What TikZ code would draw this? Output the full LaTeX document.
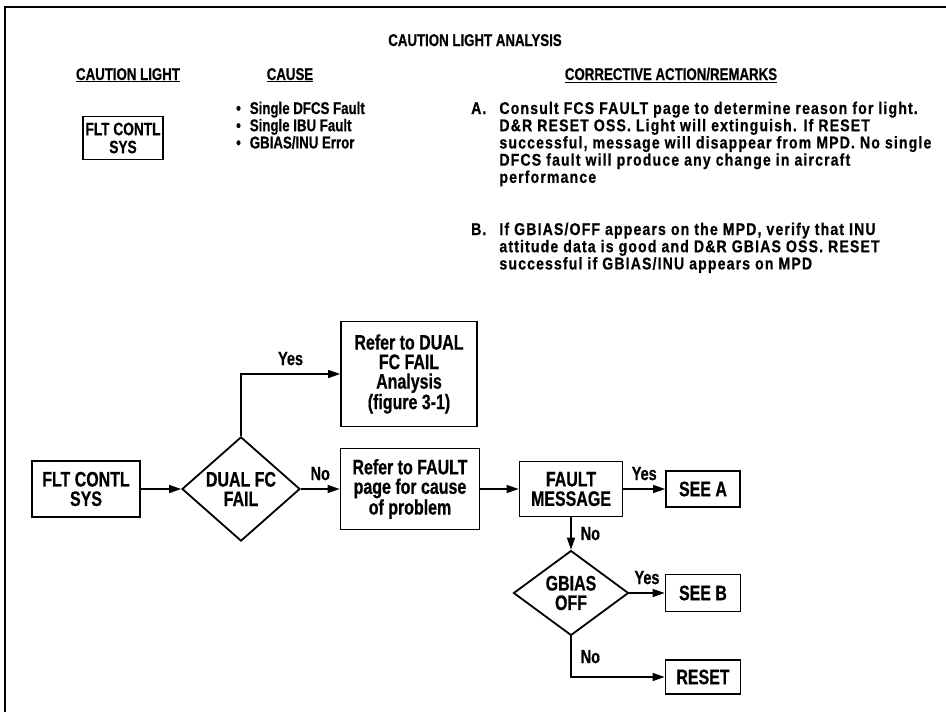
\documentclass[tikz,border=0pt]{standalone}
\usepackage{fontspec}
\setmainfont{Liberation Sans}[FakeStretch=0.78, BoldFeatures={FakeBold=0.6}]
\newfontfamily\remfont{Liberation Sans}[FakeStretch=0.83, LetterSpace=6.6, BoldFeatures={FakeBold=0.6}]
\newfontfamily\flowfont{Liberation Sans}[FakeStretch=0.76, BoldFeatures={FakeBold=0.6}]
\usetikzlibrary{shapes.geometric,arrows.meta,positioning}

\begin{document}
\begin{tikzpicture}[x=1pt, y=-1pt,
  txt/.style={font=\fontsize{17}{16.3}\selectfont\bfseries, inner sep=0pt, anchor=base west},
  rem/.style={font=\remfont\fontsize{17}{16.3}\selectfont\bfseries, inner sep=0pt, anchor=base west},
  head/.style={font=\fontsize{17}{16.3}\selectfont\bfseries, inner sep=0pt, anchor=base},
  box/.style={rectangle, draw, line width=1.8pt, align=center, inner sep=0pt, font=\flowfont\fontsize{21}{19.5}\selectfont\bfseries},
  dec/.style={diamond, draw, line width=1.8pt, align=center, inner sep=0pt, font=\flowfont\fontsize{21}{19.5}\selectfont\bfseries},
  arr/.style={-{Triangle[length=12pt, width=8pt]}, line width=1.5pt},
  lbl/.style={font=\flowfont\fontsize{19}{19}\selectfont\bfseries, inner sep=3pt}
]
\useasboundingbox (0,0) rectangle (946,712);
\draw[line width=1.8pt] (5,712) -- (5,7) -- (946,7);

\node[head] (title) at (475,46) {CAUTION LIGHT ANALYSIS};
\node[head] (hlight) at (128,80) {\underline{CAUTION LIGHT}};
\node[head] (hcause) at (290,80) {\underline{CAUSE}};
\node[head] (haction) at (671,80) {\underline{CORRECTIVE ACTION/REMARKS}};

\node[box, font=\flowfont\fontsize{18}{18}\selectfont\bfseries, minimum width=80pt, minimum height=43pt] (light) at (123,138) {FLT CONTL\\SYS};

\node[txt] (causes) at (236,114) {\begin{tabular}[t]{@{}l@{\hspace{9pt}}l@{}}
\textbullet & Single DFCS Fault\\
\textbullet & Single IBU Fault\\
\textbullet & GBIAS/INU Error
\end{tabular}};

\node[rem] (remA) at (471,114) {\begin{tabular}[t]{@{}l@{\hspace{13pt}}l@{}}
A. & Consult FCS FAULT page to determine reason for light.\\
 & D\&R RESET OSS. Light will extinguish. If RESET\\
 & successful, message will disappear from MPD. No single\\
 & DFCS fault will produce any change in aircraft\\
 & performance
\end{tabular}};

\node[rem] (remB) at (471,235) {\begin{tabular}[t]{@{}l@{\hspace{13pt}}l@{}}
B. & If GBIAS/OFF appears on the MPD, verify that INU\\
 & attitude data is good and D\&R GBIAS OSS. RESET\\
 & successful if GBIAS/INU appears on MPD
\end{tabular}};

\node[box, minimum width=108pt, minimum height=56pt] (start) at (86,489) {FLT CONTL\\SYS};
\node[dec, minimum width=118pt, minimum height=76pt] (dualfc) at (241,489) {DUAL FC\\FAIL};
\node[box, minimum width=136pt, minimum height=105pt] (refdual) at (409,374) {Refer to DUAL\\FC FAIL\\Analysis\\(figure 3-1)};
\node[box, minimum width=139pt, minimum height=81pt] (reffault) at (410,489) {Refer to FAULT\\page for cause\\of problem};
\node[box, minimum width=103pt, minimum height=55pt] (faultmsg) at (571,489) {FAULT\\MESSAGE};
\node[box, minimum width=74pt, minimum height=36pt] (seea) at (703,489) {SEE A};
\node[dec, minimum width=115pt, minimum height=73pt] (gbias) at (571,593) {GBIAS\\OFF};
\node[box, minimum width=75pt, minimum height=37pt] (seeb) at (703,593) {SEE B};
\node[box, minimum width=75pt, minimum height=34pt] (reset) at (703,677) {RESET};

\draw[arr] (start) -- (dualfc);
\draw[arr] (dualfc) -- node[lbl, above=5pt]{No} (reffault);
\draw[arr] (dualfc.north) |- node[lbl, pos=0.75, above=5pt]{Yes} (refdual.west);
\draw[arr] (reffault) -- (faultmsg);
\draw[arr] (faultmsg) -- node[lbl, above=5pt]{Yes} (seea);
\draw[arr] (faultmsg) -- node[lbl, right=6pt]{No} (gbias);
\draw[arr] (gbias) -- node[lbl, above=5pt]{Yes} (seeb);
\draw[arr] (gbias.south) |- node[lbl, pos=0.25, right=6pt]{No} (reset.west);
\end{tikzpicture}
\end{document}
